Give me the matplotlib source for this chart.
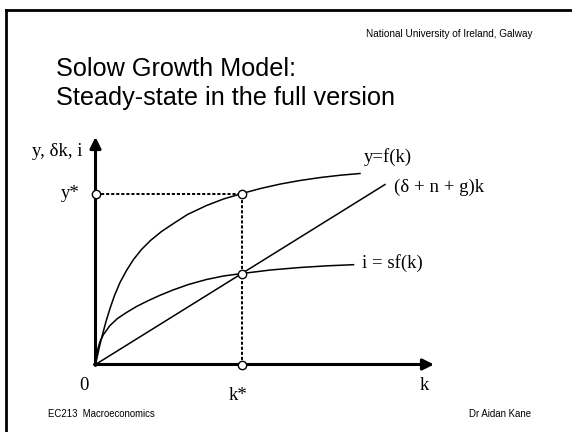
import matplotlib.pyplot as plt

# curve points, in pixel units from the origin (k, value)
k_f = [0, 2, 4, 7, 10.5, 14.5, 19, 24.5, 31, 38, 46, 55, 66, 78, 92, 111, 128, 146.5,
       165, 185, 204.5, 225, 245, 264.5]
y_f = [0, 9, 18, 30, 43, 56, 69, 82, 94, 105, 115, 124, 133, 141, 150, 159, 165.5, 171,
       176, 180.5, 184, 187, 189.3, 191]

k_sf = [0, 1, 2.5, 4.5, 8, 14.5, 22, 31, 41, 52, 64, 77.5, 93, 111, 128, 146.5, 175,
        204.5, 232, 258]
y_sf = [0, 8, 16, 23, 30, 39, 46, 52, 58, 63.5, 69, 74.5, 80, 85, 88.5, 91, 94.5,
        97, 98.7, 99.8]

k_line = [0, 289.5]
y_line = [0, 180]

k_star = 146.5
y_star = 171
i_star = 91

W, H = 572, 432
fig = plt.figure(figsize=(W / 100, H / 100), dpi=100)

# slide border (top and left)
fig.add_artist(plt.Line2D([6 / W, 1], [1 - 9.5 / H, 1 - 9.5 / H], color='black', lw=2))
fig.add_artist(plt.Line2D([6 / W, 6 / W], [0, 1 - 9.5 / H], color='black', lw=2))

sans = 'Liberation Sans'
serif = 'Liberation Serif'

fig.text(532 / W, 1 - 34 / H, 'National University of Ireland, Galway', ha='right', va='center',
         fontsize=7.2, family=sans)
fig.text(56 / W, 1 - 69 / H, 'Solow Growth Model:', ha='left', va='center', fontsize=18.2, family=sans)
fig.text(56 / W, 1 - 98 / H, 'Steady-state in the full version', ha='left', va='center',
         fontsize=18.2, family=sans)
fig.text(48 / W, 1 - 414 / H, 'EC213  Macroeconomics', ha='left', va='center', fontsize=6.9, family=sans)
fig.text(531 / W, 1 - 414 / H, 'Dr Aidan Kane', ha='right', va='center', fontsize=6.9, family=sans)

x0, y0 = 95.5, 364.5
ax = fig.add_axes([x0 / W, 1 - y0 / H, (434 - x0) / W, (y0 - 137) / H])
ax.set_xlim(0, 434 - x0)
ax.set_ylim(0, y0 - 137)
ax.axis('off')

xmax, ymax = ax.get_xlim()[1], ax.get_ylim()[1]
arrow = dict(arrowstyle='-|>,head_length=0.6,head_width=0.3', lw=2.2, color='black',
             mutation_scale=11, shrinkA=0, shrinkB=0)
ax.annotate('', xy=(xmax, 0), xytext=(-1, 0), arrowprops=arrow, annotation_clip=False)
ax.annotate('', xy=(0, ymax), xytext=(0, -1), arrowprops=arrow, annotation_clip=False)

ax.plot(k_f, y_f, color='black', lw=1.1, clip_on=False, solid_joinstyle='round')
ax.plot(k_sf, y_sf, color='black', lw=1.1, clip_on=False, solid_joinstyle='round')
ax.plot(k_line, y_line, color='black', lw=1.1, clip_on=False)

dash = dict(color='black', lw=1.4, linestyle=(0, (1.6, 1.0)))
ax.plot([0, k_star], [y_star, y_star], **dash)
ax.plot([k_star, k_star], [0, y_star], **dash)

ax.plot([0, k_star, k_star, k_star], [y_star, y_star, i_star, 0], linestyle='none', marker='o',
        markersize=6, markerfacecolor='white', markeredgecolor='black', markeredgewidth=1,
        clip_on=False, zorder=5)

fs = 13.5
ax.text(268, 207.8, 'y=f(k)', ha='left', va='center', fontsize=fs, family=serif)
ax.text(298, 177, '(δ + n + g)k', ha='left', va='center', fontsize=fs, family=serif)
ax.text(266, 101.8, 'i = sf(k)', ha='left', va='center', fontsize=fs, family=serif)
ax.text(-16, y_star, 'y*', ha='right', va='center', fontsize=fs, family=serif)
ax.text(-38.5, 212.5, 'y, δk, i', ha='center', va='center', fontsize=fs, family=serif)
ax.text(-11.5, -20.5, '0', ha='center', va='center', fontsize=fs, family=serif)
ax.text(142.5, -30.5, 'k*', ha='center', va='center', fontsize=fs, family=serif)
ax.text(328.5, -20.5, 'k', ha='center', va='center', fontsize=fs, family=serif)

plt.savefig('out.png', dpi=100)
